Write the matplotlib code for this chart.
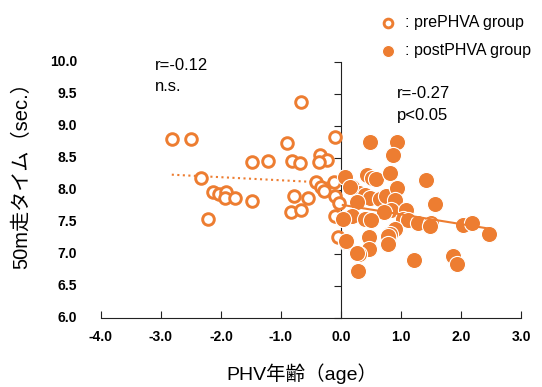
import matplotlib
matplotlib.use('Agg')
import matplotlib.pyplot as plt
import matplotlib.transforms as mtransforms
import numpy as np

plt.rcParams['font.family'] = ['Liberation Sans', 'Noto Sans CJK JP', 'DejaVu Sans']

# prePHVA group (open circles)
pre_x = [-2.82, -2.50, -2.33, -2.14, -2.04, -1.91, -1.93, -1.77, -2.21, -1.49,
         -1.21, -1.49, -0.67, -0.90, -0.81, -0.69, -0.78, -0.55, -0.83, -0.67,
         -0.10, -0.35, -0.24, -0.37, -0.42, -0.34, -0.29, -0.12, -0.10, -0.03,
         -0.10, -0.05]
pre_y = [8.79, 8.79, 8.19, 7.97, 7.93, 7.97, 7.87, 7.87, 7.55, 8.43,
         8.46, 7.83, 9.38, 8.73, 8.46, 8.42, 7.90, 7.87, 7.66, 7.68,
         8.83, 8.55, 8.47, 8.43, 8.13, 8.05, 7.98, 8.12, 7.90, 7.79,
         7.60, 7.27]

# postPHVA group (filled circles)
post_x = [0.48, 0.93, 0.86, 0.07, 0.43, 0.51, 0.59, 0.82, 0.18, 0.30,
          0.40, 0.48, 0.65, 0.75, 0.93, 0.90, 0.26, 0.84, 0.72, 1.08,
          1.42, 1.57, 0.18, 0.03, 0.40, 0.50, 1.04, 1.12, 1.29, 1.50,
          1.48, 2.04, 2.19, 2.46, 0.90, 0.82, 0.79, 0.47, 0.08, 0.78,
          0.47, 0.30, 1.22, 1.86, 1.94, 0.29, 0.15, 0.08, 0.26]
post_y = [8.75, 8.75, 8.55, 8.20, 8.23, 8.19, 8.17, 8.27, 8.04, 7.96,
          7.92, 7.88, 7.86, 7.90, 8.03, 7.85, 7.82, 7.69, 7.66, 7.69,
          8.16, 7.78, 7.60, 7.55, 7.54, 7.53, 7.54, 7.53, 7.49, 7.49,
          7.43, 7.46, 7.49, 7.32, 7.39, 7.32, 7.28, 7.27, 7.18, 7.16,
          7.08, 7.00, 6.90, 6.97, 6.84, 6.73, 8.05, 7.21, 7.01]

xticks = [-4.0, -3.0, -2.0, -1.0, 0.0, 1.0, 2.0, 3.0]
yticks = [6.0, 6.5, 7.0, 7.5, 8.0, 8.5, 9.0, 9.5, 10.0]

orange = '#ED7D31'

fig = plt.figure(figsize=(5.42, 3.87), dpi=100)
ax = fig.add_axes([0.1863, 0.1783, 0.775, 0.6615])

ax.scatter(pre_x, pre_y, s=70, facecolors='white', edgecolors=orange,
           linewidths=2.1, zorder=3, label=': prePHVA group')
ax.scatter(post_x, post_y, s=135, facecolors=orange, edgecolors='white',
           linewidths=0.8, zorder=4, label=': postPHVA group')

# regression lines
px = np.array(pre_x)
py = np.array(pre_y)
k, b = np.polyfit(px, py, 1)
xx = np.array([px.min(), px.max()])
ax.plot(xx, k * xx + b, ':', color=orange, lw=1.5, zorder=2)

qx = np.array(post_x)
qy = np.array(post_y)
k2, b2 = np.polyfit(qx, qy, 1)
xx2 = np.array([qx.min(), qx.max()])
ax.plot(xx2, k2 * xx2 + b2, '-', color=orange, lw=1.5, zorder=5)

ax.set_xlim(-4, 3)
ax.set_ylim(6, 10)
ax.spines['top'].set_visible(False)
ax.spines['right'].set_visible(False)
ax.spines['left'].set_position(('data', 0))
ax.spines['left'].set_color('#222222')
ax.spines['bottom'].set_color('#222222')

ax.set_xticks(xticks)
ax.set_xticklabels([f'{v:.1f}' for v in xticks], fontsize=10, fontweight='bold')
ax.tick_params(axis='x', direction='in', length=5, pad=9, color='#222222')

ax.set_yticks(yticks)
ax.tick_params(axis='y', direction='out', length=5, labelleft=False, color='#222222')
trans = mtransforms.blended_transform_factory(ax.transAxes, ax.transData)
for v in yticks:
    ax.text(-0.057, v, f'{v:.1f}', transform=trans, ha='right', va='center',
            fontsize=10, fontweight='bold')

fig.text(0.557, 0.035, 'PHV年齢（age）', ha='center', va='center', fontsize=14)
fig.text(0.041, 0.558, '50m走タイム（sec.）', ha='center', va='center',
         fontsize=14.5, rotation=90)

ax.text(-3.1, 9.94, 'r=-0.12', fontsize=12, va='center')
ax.text(-3.1, 9.61, 'n.s.', fontsize=12, va='center')
ax.text(0.93, 9.50, 'r=-0.27', fontsize=12, va='center')
ax.text(0.93, 9.17, 'p<0.05', fontsize=12, va='center')

leg = fig.legend(loc='upper left', bbox_to_anchor=(0.668, 0.985), frameon=False,
                 fontsize=11.5, handletextpad=0.1, labelspacing=0.8,
                 markerscale=0.75, borderaxespad=0.2)

fig.savefig('out.png', dpi=100)
